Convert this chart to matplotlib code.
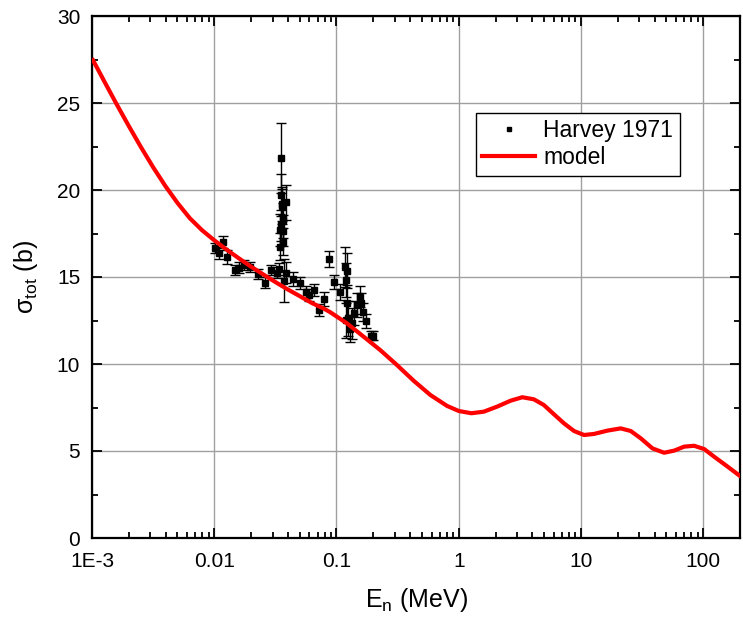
import matplotlib
matplotlib.use("Agg")
import matplotlib.pyplot as plt
from matplotlib.ticker import FixedLocator, LogLocator, NullFormatter, MultipleLocator
from matplotlib.lines import Line2D
import numpy as np

plt.rcParams['font.family'] = ['Liberation Sans', 'DejaVu Sans']

# Harvey 1971 data: energy (MeV), sigma (b), error (b)
e_exp = [0.0102, 0.0110, 0.0117, 0.0127, 0.0149, 0.0160, 0.0174, 0.0197,
         0.0230, 0.0262, 0.0292, 0.0327, 0.0341, 0.0354, 0.0350, 0.0358,
         0.0387, 0.0356, 0.0366, 0.0352, 0.0348, 0.0362, 0.0368, 0.0346,
         0.0389, 0.0370, 0.0442, 0.0507, 0.0560, 0.0600, 0.0660, 0.0716,
         0.0786, 0.0870, 0.0960, 0.1060, 0.1180, 0.1220, 0.1200, 0.1220,
         0.1240, 0.1190, 0.1340, 0.1400, 0.1460, 0.1550, 0.1580, 0.1640,
         0.1740, 0.1900, 0.2000, 0.1300]
s_exp = [16.66, 16.37, 17.02, 16.17, 15.41, 15.54, 15.68, 15.56,
         15.18, 14.68, 15.39, 15.25, 15.45, 21.83, 19.70, 19.20,
         19.30, 19.06, 18.25, 17.97, 17.70, 17.66, 17.04, 16.75,
         15.25, 14.79, 14.87, 14.64, 14.12, 13.95, 14.23, 13.10,
         13.73, 16.04, 14.71, 14.14, 15.60, 15.37, 14.83, 13.52,
         12.62, 12.52, 12.33, 12.93, 13.39, 13.87, 13.48, 12.98,
         12.48, 11.62, 11.62, 12.04]
err_exp = [0.30, 0.35, 0.35, 0.40, 0.30, 0.30, 0.30, 0.30,
           0.30, 0.30, 0.30, 0.30, 0.35, 2.00, 1.20, 1.00,
           1.00, 1.00, 1.00, 0.90, 0.90, 0.90, 0.80, 0.80,
           0.60, 1.25, 0.40, 0.35, 0.35, 0.35, 0.35, 0.35,
           0.40, 0.45, 0.40, 0.45, 1.15, 1.00, 1.00, 1.00,
           1.00, 1.00, 0.90, 0.70, 0.70, 0.60, 0.60, 0.50,
           0.40, 0.25, 0.25, 0.80]

# model curve
e_mod = [0.001, 0.001259, 0.001585, 0.001995, 0.002512, 0.003162, 0.003981, 0.005012,
         0.00631, 0.007943, 0.01, 0.01259, 0.01585, 0.01995, 0.02606, 0.03162,
         0.03981, 0.05012, 0.0631, 0.07943, 0.08872, 0.1216, 0.1667, 0.228,
         0.3126, 0.4276, 0.5861, 0.8035, 1.0, 1.27, 1.603, 2.061,
         2.655, 3.311, 4.121, 4.977, 6.012, 7.261, 8.77, 10.59,
         12.79, 16.44, 21.13, 25.53, 30.83, 38.46, 47.86, 57.81,
         69.82, 84.33, 101.9, 123.0, 158.5, 203.7]
s_mod = [27.57, 26.25, 24.95, 23.69, 22.47, 21.31, 20.23, 19.25,
         18.38, 17.69, 17.11, 16.58, 16.08, 15.60, 15.08, 14.71,
         14.29, 13.90, 13.50, 13.17, 12.98, 12.34, 11.57, 10.80,
         9.94, 9.04, 8.22, 7.59, 7.30, 7.17, 7.26, 7.55,
         7.89, 8.09, 7.97, 7.64, 7.11, 6.59, 6.15, 5.92,
         5.98, 6.17, 6.30, 6.15, 5.73, 5.15, 4.90, 5.02,
         5.25, 5.30, 5.11, 4.67, 4.10, 3.52]

fig = plt.figure(figsize=(7.43, 6.19), dpi=100)
ax = fig.add_axes([92/743, 1-538/619, 648/743, 522/619])

ax.errorbar(e_exp, s_exp, yerr=err_exp, fmt='s', color='black', ms=4.5,
            elinewidth=1.0, capsize=3.6, capthick=1.0, zorder=3)
ax.plot(e_mod, s_mod, color='red', lw=3, zorder=4, solid_joinstyle='round',
        solid_capstyle='butt')

ax.set_xscale('log')
ax.set_xlim(0.001, 200)
ax.set_ylim(0, 30)

ax.xaxis.set_major_locator(FixedLocator([0.001, 0.01, 0.1, 1, 10, 100]))
ax.set_xticklabels(['1E-3', '0.01', '0.1', '1', '10', '100'])
ax.xaxis.set_minor_locator(LogLocator(base=10, subs=np.arange(2, 10), numticks=20))
ax.xaxis.set_minor_formatter(NullFormatter())
ax.yaxis.set_major_locator(MultipleLocator(5))
ax.yaxis.set_minor_locator(MultipleLocator(2.5))

ax.tick_params(which='both', direction='in', top=True, right=True, width=1.3,
               labelsize=15)
ax.tick_params(axis='x', pad=10)
ax.tick_params(axis='y', pad=8.5)
ax.tick_params(which='major', length=7)
ax.tick_params(which='minor', length=4)
for sp in ax.spines.values():
    sp.set_linewidth(1.6)

ax.grid(True, which='major', color='#a0a0a0', lw=1.0)
ax.set_axisbelow(True)

ax.set_xlabel(r'E$_\mathregular{n}$ (MeV)', fontsize=18, labelpad=11)
ax.set_ylabel(r'$\mathregular{\sigma_{tot}}$ (b)', fontsize=18, labelpad=12)

h1 = Line2D([], [], marker='s', ls='none', color='black', ms=3)
h2 = Line2D([], [], color='red', lw=3)
leg = ax.legend([h1, h2], ['Harvey 1971', 'model'], loc='upper left',
                bbox_to_anchor=(0.592, 0.815), borderaxespad=0, fontsize=16.5,
                fancybox=False, framealpha=1, edgecolor='black',
                handlelength=2.3, handletextpad=0.35, labelspacing=0.15,
                borderpad=0.3)
leg.get_frame().set_linewidth(1.0)

fig.savefig('out.png', dpi=100)
